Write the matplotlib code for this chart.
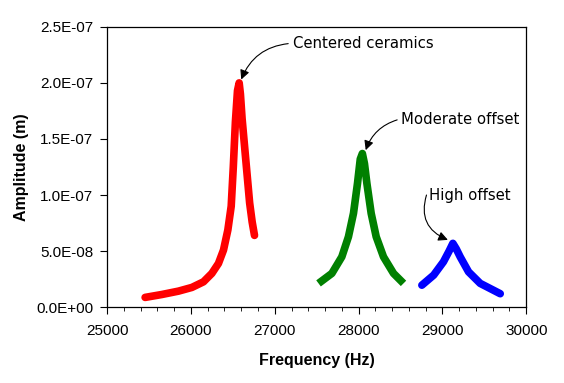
import matplotlib
matplotlib.use('Agg')
import matplotlib.pyplot as plt
from matplotlib.ticker import MultipleLocator, FuncFormatter

# frequency (Hz) and amplitude (m)
freq_centered = [25453, 25653, 25851, 26011, 26149, 26249, 26328, 26388, 26440, 26480,
                 26505, 26530, 26555, 26575, 26590, 26610, 26640, 26670, 26700, 26730, 26758]
amp_centered = [0.87e-8, 1.13e-8, 1.43e-8, 1.76e-8, 2.26e-8, 3.01e-8, 3.9e-8, 5.09e-8,
                6.88e-8, 9.0e-8, 12.5e-8, 16.5e-8, 19.3e-8, 20.0e-8, 19.0e-8, 16.8e-8,
                14.3e-8, 11.8e-8, 9.3e-8, 7.6e-8, 6.4e-8]

freq_moderate = [27522, 27681, 27800, 27879, 27939, 27987, 28020, 28045, 28070, 28099,
                 28150, 28210, 28297, 28417, 28536]
amp_moderate = [2.12e-8, 3.01e-8, 4.49e-8, 6.28e-8, 8.37e-8, 11.04e-8, 13.2e-8, 13.7e-8,
                12.8e-8, 11.04e-8, 8.37e-8, 6.28e-8, 4.49e-8, 3.01e-8, 2.12e-8]

freq_high = [28755, 28896, 29013, 29080, 29125, 29165, 29212, 29312, 29451, 29690]
amp_high = [1.96e-8, 2.86e-8, 4.05e-8, 5.0e-8, 5.69e-8, 5.2e-8, 4.49e-8, 3.15e-8,
            2.12e-8, 1.2e-8]

labels = ['Centered ceramics', 'Moderate offset', 'High offset']


def sci(v, pos):
    s = '%.1E' % v
    mant, exp = s.split('E')
    return '%sE%s%02d' % (mant, exp[0], int(exp[1:]))


fig = plt.figure(figsize=(5.64, 3.83), dpi=100)
ax = fig.add_axes([0.190, 0.198, 0.743, 0.732])

ax.plot(freq_centered, amp_centered, color='#ff0000', lw=5.5, solid_capstyle='round',
        solid_joinstyle='round')
ax.plot(freq_moderate, amp_moderate, color='#008000', lw=5.5, solid_capstyle='butt',
        solid_joinstyle='round')
ax.plot(freq_high, amp_high, color='#0000ff', lw=5.5, solid_capstyle='round',
        solid_joinstyle='round')

ax.set_xlim(25000, 30000)
ax.set_ylim(0, 2.5e-7)
ax.xaxis.set_major_locator(MultipleLocator(1000))
ax.xaxis.set_minor_locator(MultipleLocator(200))
ax.yaxis.set_major_locator(MultipleLocator(5e-8))
ax.yaxis.set_major_formatter(FuncFormatter(sci))
ax.tick_params(direction='out', length=5, width=0.8, labelsize=11, pad=7)
ax.tick_params(axis='y', pad=5)
ax.tick_params(which='minor', direction='out', length=3, width=0.6)
for lab in ax.get_xticklabels() + ax.get_yticklabels():
    lab.set_family('Liberation Sans')
for sp in ax.spines.values():
    sp.set_linewidth(0.9)

ax.set_xlabel('Frequency (Hz)', family='Liberation Sans', fontweight='bold',
              fontsize=11.5, labelpad=11)
ax.set_ylabel('Amplitude (m)', family='Liberation Sans', fontweight='bold',
              fontsize=11.5, labelpad=5)

arrow = dict(arrowstyle='-|>', color='black', lw=0.8, mutation_scale=14,
             shrinkA=0, shrinkB=0)

# text labels and their curved arrows (tail just left of each label)
ax.text(27220, 2.35e-7, labels[0], fontsize=10.7, va='center', ha='left')
ax.annotate('', xy=(26600, 2.03e-7), xytext=(27160, 2.35e-7),
            arrowprops=dict(arrow, connectionstyle='arc3,rad=0.3'))
ax.text(28508, 1.67e-7, labels[1], fontsize=10.7, va='center', ha='left')
ax.annotate('', xy=(28085, 1.40e-7), xytext=(28460, 1.67e-7),
            arrowprops=dict(arrow, connectionstyle='arc3,rad=0.25'))
ax.text(28842, 1.0e-7, labels[2], fontsize=10.7, va='center', ha='left')
ax.annotate('', xy=(29065, 0.60e-7), xytext=(28810, 1.0e-7),
            arrowprops=dict(arrow, connectionstyle='arc3,rad=0.45'))

fig.savefig('out.png', dpi=100)
